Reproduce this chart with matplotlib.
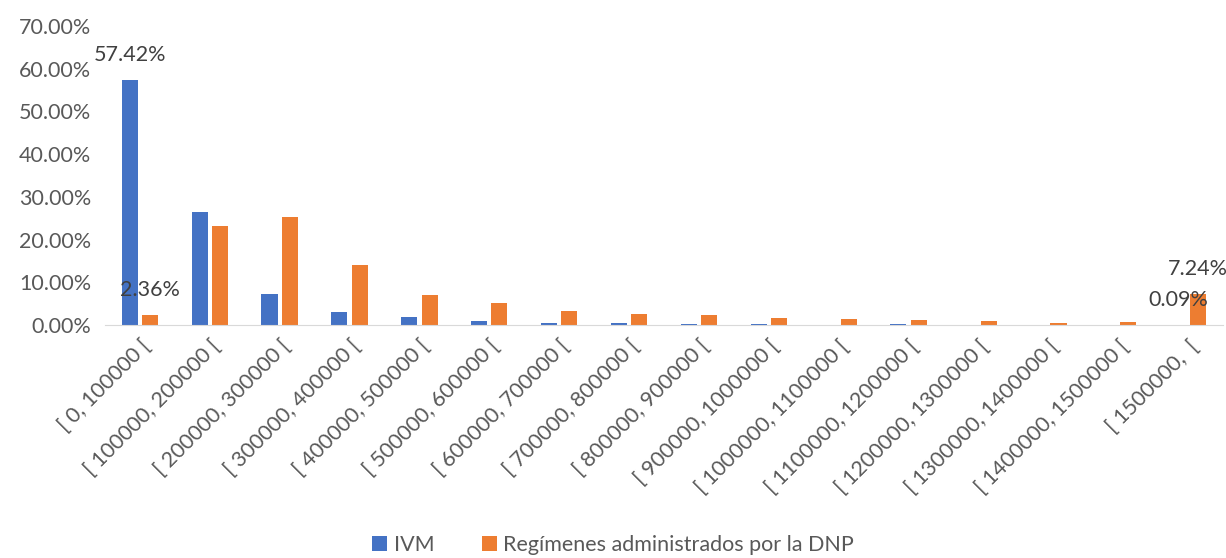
import numpy as np
import matplotlib.pyplot as plt

# rangos de pensión
categorias = ["[ 0, 100000 [", "[ 100000, 200000 [", "[ 200000, 300000 [", "[ 300000, 400000 [",
              "[ 400000, 500000 [", "[ 500000, 600000 [", "[ 600000, 700000 [", "[ 700000, 800000 [",
              "[ 800000, 900000 [", "[ 900000, 1000000 [", "[ 1000000, 1100000 [", "[ 1100000, 1200000 [",
              "[ 1200000, 1300000 [", "[ 1300000, 1400000 [", "[ 1400000, 1500000 [", "[ 1500000,  ["]

ivm = [57.42, 26.45, 7.26, 3.12, 1.79, 0.94, 0.47, 0.40, 0.20, 0.20, 0.03, 0.30, 0.02, 0.02, 0.02, 0.09]
dnp = [2.36, 23.26, 25.36, 13.97, 6.95, 5.15, 3.36, 2.60, 2.30, 1.60, 1.40, 1.20, 0.90, 0.50, 0.60, 7.24]

# etiquetas visibles (índice, serie)
etiquetas = [(0, "ivm"), (0, "dnp"), (15, "ivm"), (15, "dnp")]

plt.rcParams['font.family'] = ['Lato', 'DejaVu Sans']

fig = plt.figure(figsize=(12.26, 5.58), dpi=100)
ax = fig.add_axes([0.0856, 0.4176, 0.912, 0.5358])

x = np.arange(len(categorias))
w = 0.23
off = 0.145
ax.bar(x - off, ivm, w, color='#4472C4', label='IVM')
ax.bar(x + off, dnp, w, color='#ED7D31', label='Regímenes administrados por la DNP')

series = {"ivm": (ivm, -off), "dnp": (dnp, off)}
for i, s in etiquetas:
    vals, d = series[s]
    ax.annotate(f"{vals[i]:.2f}%", (x[i] + d, vals[i]), xytext=(0, 18),
                textcoords='offset points', ha='center', va='center',
                fontsize=15.5, color='#404040')

ax.set_xlim(-0.5, len(categorias) - 0.5)
ax.set_ylim(0, 70)
ax.set_yticks(np.arange(0, 71, 10))
ax.set_yticklabels([f"{v:.2f}%" for v in np.arange(0, 71, 10)])
ax.set_xticks(x)
ax.set_xticklabels(categorias, rotation=45, ha='right', rotation_mode='anchor')
ax.tick_params(axis='both', length=0, labelsize=15.5, labelcolor='#595959')
ax.tick_params(axis='y', pad=10)
ax.tick_params(axis='x', pad=8)

for sp in ['top', 'right', 'left']:
    ax.spines[sp].set_visible(False)
ax.spines['bottom'].set_color('#D9D9D9')

fig.legend(loc='lower center', bbox_to_anchor=(0.5, -0.03), ncol=2, frameon=False,
           fontsize=15.5, handlelength=0.7, handleheight=0.7, columnspacing=2.2,
           handletextpad=0.3, labelcolor='#595959')

fig.savefig('out.png', dpi=100)
